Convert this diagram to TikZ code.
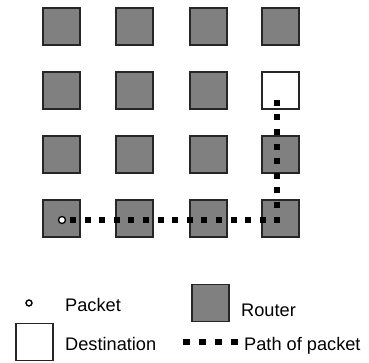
\documentclass[tikz,border=0pt]{standalone}
\usepackage{fontspec}
\setmainfont{Liberation Sans}
\begin{document}
\begin{tikzpicture}[x=1pt,y=-1pt,
  router/.style={draw=black!85,line width=1.1pt,fill=black!50,minimum size=37pt,inner sep=0pt},
  dest/.style={draw=black!85,line width=1.1pt,fill=white,minimum size=37pt,inner sep=0pt},
  packet/.style={circle,draw=black,line width=1.3pt,fill=white,minimum size=7pt,inner sep=0pt},
  pathdots/.style={line width=6pt,dash pattern=on 6pt off 8.6pt},
  lbl/.style={anchor=base west,inner sep=0pt,font=\fontsize{18.2}{21}\selectfont}]
\useasboundingbox (0,0) rectangle (369,362);
% grid
\foreach \c/\x in {1/61.5,2/134.5,3/208.5,4/280.5}{
  \foreach \r/\y in {1/26.5,2/90.5,3/154.5,4/218.5}{
    \ifnum\c=4 \ifnum\r=2
      \node[dest] (r\r\c) at (\x,\y) {};
    \else
      \node[router] (r\r\c) at (\x,\y) {};
    \fi\else
      \node[router] (r\r\c) at (\x,\y) {};
    \fi
  }
}
\node[packet] (pk) at (62,220) {};
\coordinate (pstart) at (70,220);
\coordinate (turn) at (277,220);
\coordinate (pend) at (277,93);
\draw[pathdots] (pstart) -- (turn) -- (pend);
% legend
\node[packet,minimum size=6pt,line width=1.4pt] (lpk) at (29,303) {};
\node[lbl] (tpk) at (65,311) {Packet};
\node[router] (lrt) at (210.5,303) {};
\node[lbl] (trt) at (241,316) {Router};
\node[dest] (lds) at (34.5,342) {};
\node[lbl] (tds) at (65,350) {Destination};
\coordinate (d1) at (183,342);
\coordinate (d2) at (238,342);
\draw[line width=6pt,dash pattern=on 6.5pt off 9.6pt] (d1) -- (d2);
\node[lbl] (tpth) at (244,350) {Path of packet};
\end{tikzpicture}
\end{document}
